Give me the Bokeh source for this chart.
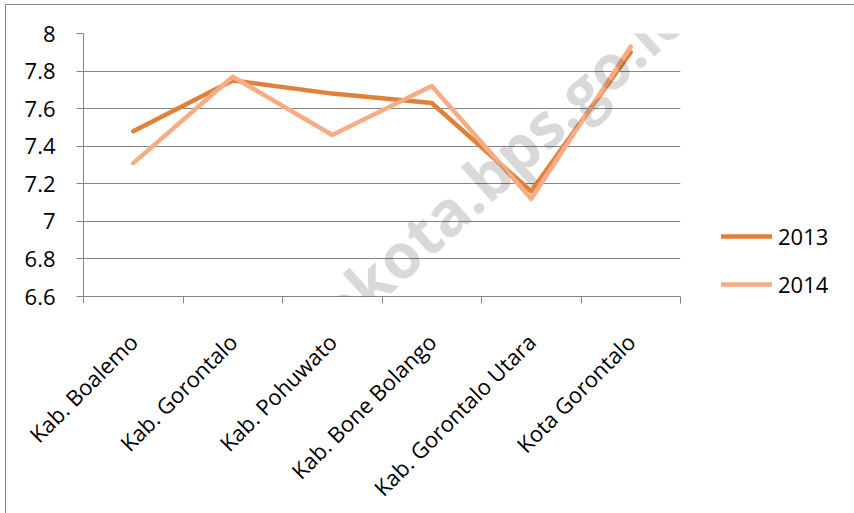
import math
from bokeh.plotting import figure
from bokeh.models import (Range1d, FixedTicker, Legend, LegendItem, Label)
from bokeh.embed import file_html
from bokeh.resources import INLINE

# ---- data ----
categories = ["Kab. Boalemo", "Kab. Gorontalo", "Kab. Pohuwato",
              "Kab. Bone Bolango", "Kab. Gorontalo Utara", "Kota Gorontalo"]
values_2013 = [7.48, 7.75, 7.68, 7.63, 7.16, 7.90]
values_2014 = [7.31, 7.77, 7.46, 7.72, 7.12, 7.93]
series_names = ["2013", "2014"]
y_ticks = [6.6, 6.8, 7.0, 7.2, 7.4, 7.6, 7.8, 8.0]
y_tick_labels = ["6.6", "6.8", "7", "7.2", "7.4", "7.6", "7.8", "8"]
watermark = "http://gorontalokota.bps.go.id"

FONT = "Open Sans"
GRAY = "#868686"
C2013 = "#E0813A"
C2014 = "#F7AD83"

n = len(categories)
x_pos = [i + 0.5 for i in range(n)]          # category centres
x_bounds = [float(i) for i in range(n + 1)]   # category boundaries

p = figure(frame_width=597, frame_height=263,
           x_range=Range1d(0, n),
           y_range=Range1d(y_ticks[0], y_ticks[-1]),
           output_backend="svg", toolbar_location=None,
           min_border_left=77, min_border_top=28,
           min_border_right=172, min_border_bottom=213)
p.outline_line_color = None
p.background_fill_color = "white"
p.border_fill_color = "white"
p.styles = {"margin-left": "5px", "margin-top": "4px",
            "border-left": "1px solid #898989", "border-top": "1px solid #898989"}

# y axis
yax = p.yaxis[0]
yax.ticker = FixedTicker(ticks=y_ticks)
yax.major_label_overrides = {t: l for t, l in zip(y_ticks, y_tick_labels)}
yax.axis_line_color = GRAY
yax.major_tick_line_color = GRAY
yax.major_tick_out = 7
yax.major_tick_in = 0
yax.minor_tick_line_color = None
yax.major_label_text_font = FONT
yax.major_label_text_font_size = "22px"
yax.major_label_text_color = "black"
yax.major_label_standoff = 21

p.ygrid.grid_line_color = GRAY
p.ygrid.grid_line_width = 1
p.xgrid.grid_line_color = None

# x axis: labels at centres, ticks at boundaries (minor ticks)
xax = p.xaxis[0]
xax.ticker = FixedTicker(ticks=x_pos, minor_ticks=x_bounds)
xax.major_label_overrides = {x: c for x, c in zip(x_pos, categories)}
xax.axis_line_color = GRAY
xax.major_tick_line_color = None
xax.major_tick_out = 0
xax.major_tick_in = 0
xax.minor_tick_line_color = GRAY
xax.minor_tick_out = 7
xax.minor_tick_in = 0
xax.major_label_orientation = math.pi / 4
xax.major_label_text_font = FONT
xax.major_label_text_font_size = "22px"
xax.major_label_text_color = "black"
xax.major_label_standoff = 34

# watermark
wm = Label(x=245, y=-21, x_units="screen", y_units="screen", text=watermark,
           angle=42, angle_units="deg", text_font=FONT, text_font_size="62px",
           text_font_style="bold", text_color="black", text_alpha=0.15,
           text_align="center", text_baseline="middle", level="overlay")
p.add_layout(wm)

# lines
r1 = p.line(x_pos, values_2013, line_color=C2013, line_width=4.5,
            line_cap="round", line_join="round")
r2 = p.line(x_pos, values_2014, line_color=C2014, line_width=4.5,
            line_cap="round", line_join="round")

legend = Legend(items=[LegendItem(label=series_names[0], renderers=[r1]),
                       LegendItem(label=series_names[1], renderers=[r2])],
                location=(41, -3), orientation="vertical",
                glyph_width=51, glyph_height=24, label_height=24,
                label_standoff=6, spacing=18, padding=0, margin=0,
                border_line_color=None, background_fill_alpha=0,
                label_text_font=FONT, label_text_font_size="22px",
                label_text_color="black")
p.add_layout(legend, "right")

open("out.html", "w").write(file_html(p, INLINE))
